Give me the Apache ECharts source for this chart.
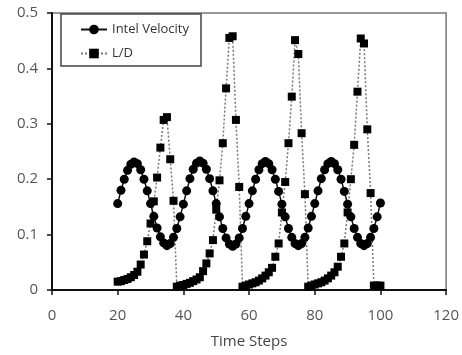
<!DOCTYPE html>
<html>
<head>
<meta charset="utf-8">
<script src="https://cdn.jsdelivr.net/npm/echarts@6/dist/echarts.min.js"></script>
<style>
  html, body { margin: 0; padding: 0; background: #fff; }
  #chart { width: 462px; height: 355px; }
</style>
</head>
<body>
<div id="chart"></div>
<script>
// Time steps sampled by both series
var timeSteps = [
  20, 21, 22, 23, 24, 25, 26, 27, 28, 29,
  30, 31, 32, 33, 34, 35, 36, 37, 38, 39,
  40, 41, 42, 43, 44, 45, 46, 47, 48, 49,
  50, 51, 52, 53, 54, 55, 56, 57, 58, 59,
  60, 61, 62, 63, 64, 65, 66, 67, 68, 69,
  70, 71, 72, 73, 74, 75, 76, 77, 78, 79,
  80, 81, 82, 83, 84, 85, 86, 87, 88, 89,
  90, 91, 92, 93, 94, 95, 96, 97, 98, 99,
  100
];

// Inlet velocity per time step
var intelVelocity = [
  0.156, 0.180, 0.200, 0.216, 0.227, 0.231, 0.228, 0.217, 0.200, 0.179,
  0.156, 0.133, 0.112, 0.096, 0.085, 0.080, 0.084, 0.095, 0.111, 0.132,
  0.155, 0.179, 0.201, 0.218, 0.229, 0.233, 0.229, 0.218, 0.201, 0.179,
  0.156, 0.132, 0.111, 0.094, 0.083, 0.079, 0.083, 0.094, 0.111, 0.133,
  0.156, 0.179, 0.200, 0.217, 0.228, 0.232, 0.228, 0.217, 0.200, 0.178,
  0.155, 0.132, 0.111, 0.095, 0.084, 0.080, 0.084, 0.095, 0.112, 0.133,
  0.156, 0.179, 0.201, 0.217, 0.228, 0.232, 0.228, 0.217, 0.200, 0.178,
  0.155, 0.132, 0.111, 0.095, 0.084, 0.080, 0.084, 0.095, 0.111, 0.132,
  0.157
];

// Lift-to-drag ratio per time step
var liftToDrag = [
  0.015, 0.016, 0.018, 0.020, 0.023, 0.027, 0.033, 0.046, 0.064, 0.088,
  0.120, 0.160, 0.203, 0.257, 0.307, 0.312, 0.236, 0.161, 0.006, 0.008,
  0.009, 0.011, 0.013, 0.016, 0.019, 0.023, 0.034, 0.048, 0.066, 0.090,
  0.145, 0.198, 0.265, 0.364, 0.455, 0.458, 0.307, 0.186, 0.006, 0.008,
  0.010, 0.012, 0.014, 0.017, 0.021, 0.026, 0.032, 0.040, 0.060, 0.084,
  0.140, 0.195, 0.265, 0.349, 0.451, 0.426, 0.283, 0.173, 0.006, 0.008,
  0.010, 0.012, 0.014, 0.017, 0.021, 0.026, 0.032, 0.042, 0.060, 0.084,
  0.140, 0.200, 0.262, 0.358, 0.454, 0.445, 0.290, 0.175, 0.008, 0.008,
  0.008
];

var xTicks = [0, 20, 40, 60, 80, 100, 120];
var yTicks = [0, 0.1, 0.2, 0.3, 0.4, 0.5];

function pairs(xs, ys) {
  return xs.map(function (x, i) { return [x, ys[i]]; });
}

var textFont = '"Open Sans", "DejaVu Sans", sans-serif';
var chart = echarts.init(document.getElementById('chart'), null, { renderer: 'canvas' });

chart.setOption({
  animation: false,
  backgroundColor: '#ffffff',
  grid: {
    left: 52, right: 14, top: 13, bottom: 65,
    show: true, borderColor: '#777', borderWidth: 1.5,
    containLabel: false
  },
  legend: {
    orient: 'vertical',
    left: 61, top: 14,
    padding: [9, 12, 6, 19],
    itemGap: 11,
    itemWidth: 26,
    itemHeight: 12,
    borderColor: '#444',
    borderWidth: 1.5,
    backgroundColor: '#fff',
    textStyle: { fontFamily: textFont, fontSize: 13, color: '#333' },
    data: ['Intel Velocity', 'L/D']
  },
  xAxis: {
    type: 'value',
    min: xTicks[0], max: xTicks[xTicks.length - 1], interval: 20,
    name: 'Time Steps',
    nameLocation: 'middle',
    nameGap: 44,
    nameTextStyle: { fontFamily: textFont, fontSize: 15, color: '#444' },
    axisLine: { show: true, lineStyle: { color: '#111', width: 2 } },
    axisTick: { show: true, length: 5, lineStyle: { color: '#111', width: 1.5 } },
    axisLabel: { fontFamily: textFont, fontSize: 15, color: '#555', margin: 18 },
    splitLine: { show: false }
  },
  yAxis: {
    type: 'value',
    min: yTicks[0], max: yTicks[yTicks.length - 1], interval: 0.1,
    axisLine: { show: true, lineStyle: { color: '#111', width: 2 } },
    axisTick: { show: true, length: 5, lineStyle: { color: '#111', width: 1.5 } },
    axisLabel: { fontFamily: textFont, fontSize: 15, color: '#555', margin: 14 },
    splitLine: { show: false }
  },
  series: [
    {
      name: 'Intel Velocity',
      type: 'line',
      data: pairs(timeSteps, intelVelocity),
      symbol: 'circle',
      symbolSize: 9,
      itemStyle: { color: '#000' },
      lineStyle: { color: '#111', width: 1.5, type: 'solid' },
      z: 3
    },
    {
      name: 'L/D',
      type: 'line',
      data: pairs(timeSteps, liftToDrag),
      symbol: 'rect',
      symbolSize: 8,
      itemStyle: { color: '#000' },
      lineStyle: { color: '#777', width: 1.5, type: [2, 2] },
      z: 2
    }
  ]
});
</script>
</body>
</html>
